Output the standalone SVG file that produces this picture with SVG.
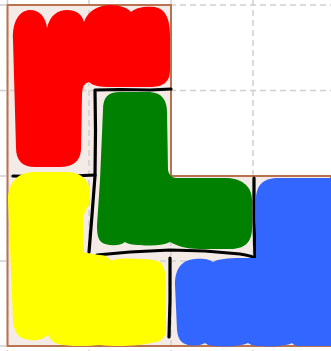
<svg xmlns="http://www.w3.org/2000/svg" width="331" height="351" viewBox="0 0 331 351">
<style>
.grid{stroke:#cfcfcf;stroke-width:1.5;stroke-dasharray:6,4;fill:none}
.ink{stroke:#000;stroke-width:3.2;fill:none;stroke-linecap:round;stroke-linejoin:round}
</style>
<rect x="0" y="0" width="331" height="351" fill="#ffffff"/>
<g id="board">
<path d="M7.5,5 L171,5 L171,176 L331,176 L331,346 L7.5,346 Z" fill="#f4ebe6"/>
</g>
<g id="grid">
<line class="grid" x1="0" y1="5" x2="331" y2="5"/>
<line class="grid" x1="0" y1="90.5" x2="331" y2="90.5"/>
<line class="grid" x1="0" y1="176" x2="331" y2="176"/>
<line class="grid" x1="0" y1="261" x2="331" y2="261"/>
<line class="grid" x1="0" y1="346" x2="331" y2="346"/>
<line class="grid" x1="7.5" y1="0" x2="7.5" y2="351"/>
<line class="grid" x1="89" y1="0" x2="89" y2="351"/>
<line class="grid" x1="171" y1="0" x2="171" y2="351"/>
<line class="grid" x1="253" y1="0" x2="253" y2="351"/>
</g>
<g id="border">
<path d="M7.5,5 L171,5 L171,176 L331,176 L331,346 L7.5,346 Z" fill="none" stroke="#b8724f" stroke-width="2"/>
</g>
<g id="connectors">
<path class="ink" d="M171,89 L150,90 L120,89.5 L95,90 L95.5,130 L95,176 L92,215 L89,252"/>
<path class="ink" d="M97,255 L130,252 L170,250 L205,251 L240,254 Q254,256 255,259 L254,220 L254,178"/>
<path class="ink" d="M13,176 L50,177 L95,175"/>
<path class="ink" d="M170,258 L170,300 L169,337"/>
</g>
<g id="red">
<path fill="#ff0000" d="M13,40 C12,18 22,10 30,10 C40,10 46,18 47,28 C50,15 58,10 67,10 C76,10 82,14 84,22 C88,10 100,5 110,5 C120,5 128,8 131,12 C136,7 146,6 155,7 C166,9 170,20 170,35 L170,70 C170,83 162,87 150,87 L110,87 C100,87 93,86 89,82 Q82,83 82,95 L81,150 C80,162 72,167 60,167 L35,167 C22,167 16,160 16,148 Z"/>
</g>
<g id="green">
<path fill="#008000" d="M103,110 C103,97 108,92 120,92 L150,92 C162,93 167,100 167,112 L168,170 Q169,177 176,178 L225,178 C240,178 252,185 252,200 L252,228 C252,243 244,249 230,249 L200,249 C185,249 178,246 170,242 C162,246 150,246 140,245 C132,245 128,244 125,242 C120,246 112,246 105,244 C98,242 97,235 97,225 L100,180 Z"/>
</g>
<g id="yellow">
<path fill="#ffff00" d="M8,200 C8,182 18,172 35,172 L65,172 C82,172 90,180 90,195 L89,205 C85,210 83,215 83,225 L84,252 C88,254 95,254 100,255 C106,255 109,258 111,261 C115,258 125,258 140,259 C150,259 157,260 161,263 C165,268 166,275 166,285 L166,330 C165,340 160,342 150,343 C140,346 115,347 100,345 C90,346 70,347 58,344 C52,342 49,338 48,334 C45,339 38,341 30,340 C18,339 14,332 13,320 Z"/>
</g>
<g id="blue">
<path fill="#3366ff" d="M175,285 C175,268 182,260 195,259 C205,258 210,260 213,262 C218,259 228,258 240,258 L256,258 L256,200 C256,185 263,178 279,178 L331,178 L331,346 L300,346 C295,346 293,344 292,343 C288,346 270,347 260,346 C252,346 250,344 248,343 C243,346 225,347 215,346 C210,346 207,345 205,343 C200,346 193,346 188,345 C180,343 178,338 177,330 Z"/>
</g>
</svg>
